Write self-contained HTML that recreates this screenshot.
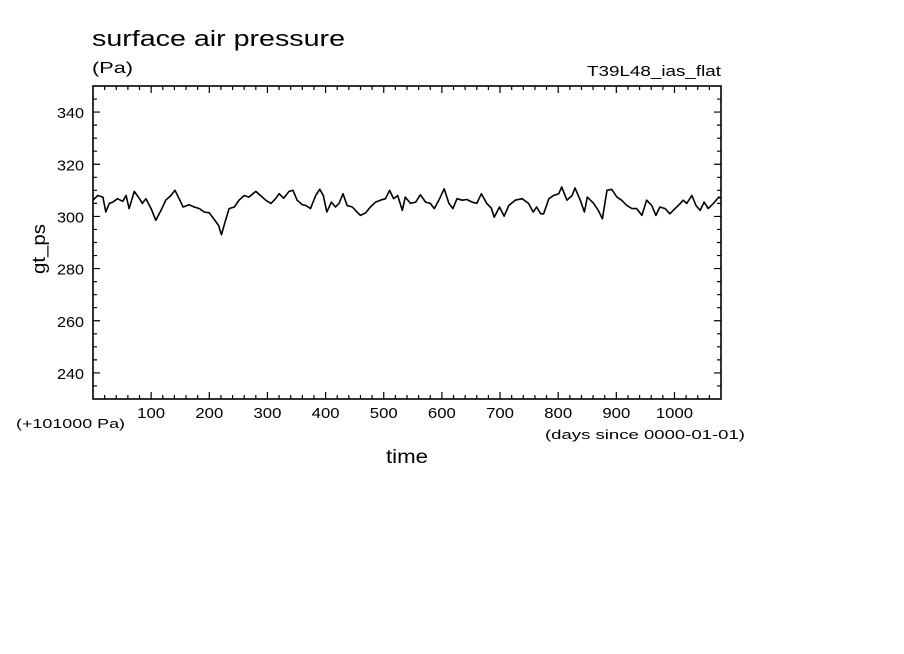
<!DOCTYPE html>
<html><head><meta charset="utf-8"><style>
html,body{margin:0;padding:0;background:#fff;width:904px;height:654px;overflow:hidden}
svg text{font-family:"Liberation Sans",sans-serif;fill:#000}
</style></head><body>
<svg id="chart" width="904" height="654" xmlns="http://www.w3.org/2000/svg">
<text x="92" y="46" font-size="22" textLength="253" lengthAdjust="spacingAndGlyphs">surface air pressure</text>
<text x="92" y="73" font-size="16" textLength="41" lengthAdjust="spacingAndGlyphs">(Pa)</text>
<text x="587" y="76" font-size="15" textLength="134" lengthAdjust="spacingAndGlyphs">T39L48_ias_flat</text>
<text transform="translate(45,249) rotate(-90)" font-size="18" text-anchor="middle" textLength="50" lengthAdjust="spacingAndGlyphs">gt_ps</text>
<text x="386" y="463" font-size="19" textLength="42" lengthAdjust="spacingAndGlyphs">time</text>
<text x="16" y="428" font-size="13" textLength="109" lengthAdjust="spacingAndGlyphs">(+101000 Pa)</text>
<text x="545" y="439" font-size="13" textLength="200" lengthAdjust="spacingAndGlyphs">(days since 0000-01-01)</text>
<g id="axes"></g>
<g id="series"></g>
</svg>
<script>
const xTicks=[100,200,300,400,500,600,700,800,900,1000];
const yTicks=[240,260,280,300,320,340];
const days=[0,8,17,22,28,34,42,51,57,62,71,80,85,91,100,108,117,125,134,141,148,155,165,174,183,191,200,208,216,221,227,234,243,251,260,268,280,288,297,306,314,320,328,337,344,351,360,366,374,383,390,396,402,410,417,423,430,437,446,454,460,469,477,486,494,503,510,517,524,532,537,546,555,563,572,580,587,596,604,612,619,626,635,643,652,660,668,677,685,690,699,707,715,726,738,749,757,763,770,775,784,792,801,806,815,824,829,838,845,850,861,869,876,884,892,901,909,918,927,935,944,952,961,968,975,984,992,1001,1010,1015,1021,1030,1037,1044,1051,1058,1067,1076,1080];
const values=[306.2,308,307.4,301.7,305,305.5,306.8,305.8,308,303,309.6,306.8,305,306.8,303,298.5,302.3,306.2,308,310,306.8,303.6,304.5,303.6,303,301.7,301.4,299,296.5,293,297.8,303,303.6,306.2,308,307.4,309.6,308,306.2,305,306.8,308.7,307,309.6,310,306.2,304.5,304.2,303,308,310.4,308,301.7,305.5,303.6,305,308.7,304.2,303.6,301.7,300.4,301.4,303.6,305.5,306.2,306.8,310,306.8,308,302.3,307.4,305,305.5,308.3,305.5,305,303,306.8,310.6,305,303,306.8,306.2,306.5,305.5,305,308.7,305,303.2,299.7,303.6,300.1,304.2,306.2,306.8,305,301.7,303.6,301,301,306.8,308,308.7,311.3,306.2,308,310.9,306.2,301.7,307.4,305,302.3,299.1,310,310.4,307.4,306.2,304.2,303,303,300.4,306.2,304.2,300.4,303.6,303,301,303,305,306.2,305,308,304.2,302.3,305.5,303,305,307.4,307];
const X0=93,X1=721,Y0=86,Y1=399,XMIN=0,XMAX=1080,YMIN=230,YMAX=350;
const sx=d=>X0+(d-XMIN)/(XMAX-XMIN)*(X1-X0);
const sy=v=>Y1-(v-YMIN)/(YMAX-YMIN)*(Y1-Y0);
const NS="http://www.w3.org/2000/svg";
const axes=document.getElementById('axes');
function mk(tag,attrs,parent){const e=document.createElementNS(NS,tag);for(const k in attrs)e.setAttribute(k,attrs[k]);parent.appendChild(e);return e;}
const frame=mk('rect',{x:X0,y:Y0,width:X1-X0,height:Y1-Y0,fill:'none',stroke:'#000','stroke-width':1.6},axes);


for(let d=20;d<XMAX;d+=20){const maj=d%100===0;const L=maj?7:4;const x=sx(d);
 const t=mk('path',{d:`M${x},${Y1}V${Y1-L}M${x},${Y0}V${Y0+L}`,stroke:'#000','stroke-width':1.2},axes);
 
 }
for(let v=235;v<YMAX;v+=5){const maj=v%20===0;const L=maj?7:4;const y=sy(v);
 const t=mk('path',{d:`M${X0},${y}H${X0+L}M${X1},${y}H${X1-L}`,stroke:'#000','stroke-width':1.2},axes);
 
 }
xTicks.forEach(d=>{const s=String(d);const t=mk('text',{x:sx(d),y:418,'font-size':15,'text-anchor':'middle',textLength:s.length*9.3,lengthAdjust:'spacingAndGlyphs'},axes);t.textContent=s;
 
 });
yTicks.forEach(v=>{const t=mk('text',{x:84,y:sy(v)+6,'font-size':15,'text-anchor':'end',textLength:27,lengthAdjust:'spacingAndGlyphs'},axes);t.textContent=v;
 
 });
const pts=days.map((d,i)=>sx(d).toFixed(1)+','+sy(values[i]).toFixed(1)).join(' ');
const line=mk('polyline',{points:pts,fill:'none',stroke:'#000','stroke-width':1.6,'stroke-linejoin':'round'},document.getElementById('series'));


</script>
</body></html>
